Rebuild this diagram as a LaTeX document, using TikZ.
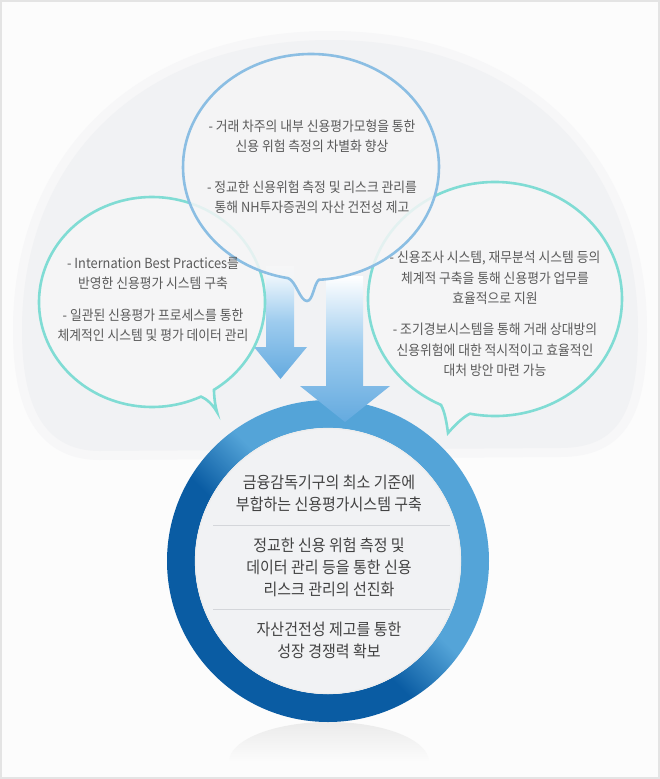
\documentclass[tikz,border=0pt]{standalone}
\usepackage{fontspec}
\setmainfont[FakeStretch=0.92]{Noto Sans CJK KR}
\usetikzlibrary{calc}
\definecolor{framegray}{HTML}{E4E4E4}
\definecolor{bgcol}{HTML}{FCFCFC}
\definecolor{domecol}{HTML}{F1F2F4}
\definecolor{halocol}{HTML}{F7F7F8}
\definecolor{bubblefill}{HTML}{F5F5F6}
\definecolor{topstroke}{HTML}{8BBEE3}
\definecolor{tealstroke}{HTML}{80DCD4}
\definecolor{ringdark}{HTML}{0A5CA3}
\definecolor{ringlight}{HTML}{54A4D8}
\definecolor{innerfill}{HTML}{F1F2F4}
\definecolor{dividercol}{HTML}{D4D6DA}
\definecolor{smalltext}{HTML}{5A5A5A}
\definecolor{bigtext}{HTML}{424242}
\definecolor{arrowbot}{HTML}{64AADF}
\definecolor{arrowmid}{HTML}{9CCBEE}
\pgfdeclarehorizontalshading{ringshade}{100bp}{color(0bp)=(ringdark); color(44bp)=(ringdark); color(54bp)=(ringlight); color(100bp)=(ringlight)}
\begin{document}
\begin{tikzpicture}[x=1pt,y=-1pt,
  smallbox/.style={text=smalltext, align=center, inner sep=0pt, font=\fontsize{13.9}{20.3}\selectfont},
  bigbox/.style={text=bigtext, align=center, inner sep=0pt, font=\fontsize{16.3}{22}\selectfont},
  topbubble/.style={draw=topstroke, line width=2.6pt},
  sidebubble/.style={draw=tealstroke, line width=2.6pt, fill=bubblefill},
  arrowshade/.style={top color=white, bottom color=arrowbot, middle color=arrowmid}]
\useasboundingbox (0,0) rectangle (660,779);
% frame
\fill[framegray] (0,0) rectangle (660,779);
\fill[bgcol] (2,2) rectangle (658,777);
% dome with halo
\def\domepath{(22,330) .. controls (22,156) and (145,40) .. (330,40)
  .. controls (515,40) and (638,156) .. (638,330)
  .. controls (638,410) and (620,448) .. (560,448) -- (100,451)
  .. controls (40,451) and (22,400) .. cycle}
\path[draw=halocol, fill=halocol, line width=18pt, line join=round] \domepath;
\fill[domecol] \domepath;
% reflection
\shade[top color=black!8, bottom color=bgcol] (229,762) arc[start angle=180, end angle=360, x radius=100, y radius=40] -- cycle;
% ring
\coordinate (rc) at (328,561);
\path[shading=ringshade, shading angle=45, even odd rule] (rc) circle (161) (rc) circle (133);
\fill[innerfill] (rc) circle (133);
\draw[black!7, line width=1.2pt] (rc) circle (132.5);
\coordinate (d1l) at (213,525); \coordinate (d1r) at (450,525);
\coordinate (d2l) at (213,609); \coordinate (d2r) at (450,609);
\draw[dividercol, line width=1pt] (d1l) -- (d1r);
\draw[dividercol, line width=1pt] (d2l) -- (d2r);
% arrows
\shade[arrowshade] (266,266) -- (294,266) -- (294,347) -- (307,347) -- (280.5,379) -- (254,347) -- (266,347) -- cycle;
\shade[arrowshade] (326,276) -- (363,276) -- (363,386) -- (390,386) -- (345,422) -- (300,386) -- (326,386) -- cycle;
% left bubble
\path[sidebubble] ([shift={(152,302)}]56.72:113 and 105)
  arc[start angle=56.72, end angle=-295.7, x radius=113, y radius=105]
  .. controls (207,399) and (213,405) .. (217,412)
  .. controls (215,405) and (214,396) .. cycle;
% right bubble
\path[sidebubble] ([shift={(495,299)}]101.35:127 and 117)
  arc[start angle=101.35, end angle=-244.84, x radius=127, y radius=117]
  .. controls (445,412) and (447,425) .. (448,433)
  .. controls (455,425) and (463,417) .. cycle;
% top bubble
\path[topbubble, fill=bubblefill, fill opacity=0.85] ([shift={(311,167)}]86.42:128 and 113)
  arc[start angle=86.42, end angle=-259.65, x radius=128, y radius=113]
  .. controls (296,281) and (300,301) .. (307,301)
  .. controls (313,301) and (314,283) .. cycle;
% bubble texts
\node[smallbox] (t1) at (312,136) {- 거래 차주의 내부 신용평가모형을 통한\\신용 위험 측정의 차별화 향상};
\node[smallbox] (t2) at (312,197) {- 정교한 신용위험 측정 및 리스크 관리를\\통해 NH투자증권의 자산 건전성 제고};
\node[smallbox] (l1) at (153,273.5) {- Internation Best Practices를\\반영한 신용평가 시스템 구축};
\node[smallbox] (l2) at (153,325) {- 일관된 신용평가 프로세스를 통한\\체계적인 시스템 및 평가 데이터 관리};
\node[smallbox] (r1) at (495,278) {- 신용조사 시스템, 재무분석 시스템 등의\\체계적 구축을 통해 신용평가 업무를\\효율적으로 지원};
\node[smallbox] (r2) at (495,350) {- 조기경보시스템을 통해 거래 상대방의\\신용위험에 대한 적시적이고 효율적인\\대처 방안 마련 가능};
% center texts
\node[bigbox] (c1) at (329,493) {금융감독기구의 최소 기준에\\부합하는 신용평가시스템 구축};
\node[bigbox] (c2) at (329,567) {정교한 신용 위험 측정 및\\데이터 관리 등을 통한 신용\\리스크 관리의 선진화};
\node[bigbox] (c3) at (329,640) {자산건전성 제고를 통한\\성장 경쟁력 확보};
\end{tikzpicture}
\end{document}
